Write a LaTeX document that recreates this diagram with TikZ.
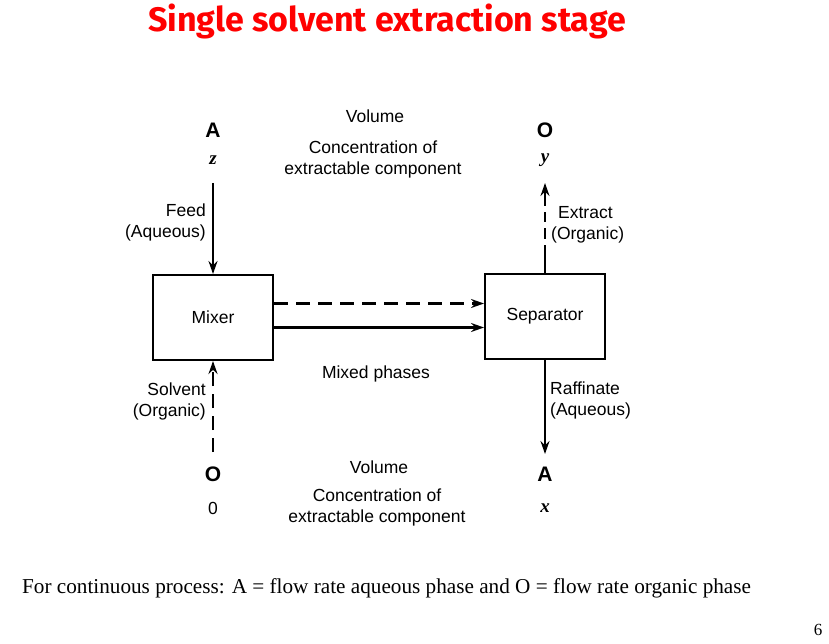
\documentclass[tikz,border=0pt]{standalone}
\usepackage{fontspec}
\setmainfont{Liberation Sans}
\newfontfamily\titlefont{Fira Sans}
\newfontfamily\seriffont{Liberation Serif}
\usetikzlibrary{arrows.meta}
\tikzset{
  lbl/.style={inner sep=0pt, font=\fontsize{17.5}{21}\selectfont},
  twoline/.style={lbl, font=\fontsize{17.5}{21}\selectfont},
  big/.style={inner sep=0pt, font=\fontsize{21}{24}\selectfont\bfseries},
  var/.style={inner sep=0pt, font=\seriffont\fontsize{19}{22}\selectfont\bfseries\itshape},
  unitbox/.style={draw, line width=2pt, minimum width=120pt, minimum height=85pt, font=\fontsize{17.5}{21}\selectfont},
  flow/.style={line width=2.2pt, -{Stealth[length=13pt,width=9pt]}},
  dflow/.style={flow, dash pattern=on 14pt off 8pt},
}
\begin{document}
\begin{tikzpicture}[x=1pt,y=-1pt]
\useasboundingbox (0,0) rectangle (829,644);
% title
\node[inner sep=0pt, text=red, font=\titlefont\fontsize{34}{40}\selectfont\bfseries] (title) at (387,21) {Single solvent extraction stage};
% boxes
\node[unitbox] (mixer) at (213,317.5) {Mixer};
\node[unitbox] (sep) at (545,316.5) {Separator};
% top labels
\node[big] (A1) at (213,130) {A};
\node[var] (z) at (213,160) {z};
\node[big] (O1) at (545,130) {O};
\node[var] (y) at (545,160) {y};
\node[lbl] (vol1) at (375,116) {Volume};
\node[twoline, align=center] (conc1) at (373,159) {Concentration of\\extractable component};
% bottom labels
\node[big] (O2) at (213,474) {O};
\node[lbl] (zero) at (213,508) {0};
\node[big] (A2) at (545,474) {A};
\node[var] (x) at (545,508) {x};
\node[lbl] (vol2) at (379,467) {Volume};
\node[twoline, align=center] (conc2) at (377,507.5) {Concentration of\\extractable component};
\node[lbl] (mixed) at (376,374) {Mixed phases};
% stream labels
\node[twoline, align=right, anchor=east] (feed) at (206,222) {Feed\\(Aqueous)};
\node[twoline, align=left, anchor=west] (extract) at (551,225) {\hspace{7pt}Extract\\(Organic)};
\node[twoline, align=right, anchor=east] (solvent) at (206,401) {Solvent\\(Organic)};
\node[twoline, align=left, anchor=west] (raff) at (550,400) {Raffinate\\(Aqueous)};
% coordinates
\coordinate (feedtop) at (213,183);
\coordinate (solvbot) at (213,452);
\coordinate (extop) at (545,183);
\coordinate (raffbot) at (545,454);
% flows
\draw[flow] (feedtop) -- (mixer.north);
\draw[dflow] (solvbot) -- (mixer.south);
\draw[flow, dash pattern=on 28pt off 6pt on 11pt off 6pt on 10pt off 6pt on 100pt] (sep.north) -- (extop);
\draw[flow] (sep.south) -- (raffbot);
\draw[dflow] ([yshift=14pt]mixer.east) -- ([yshift=13pt]sep.west);
\draw[flow] ([yshift=-10pt]mixer.east) -- ([yshift=-11pt]sep.west);
% footer
\node[inner sep=0pt, anchor=west, font=\seriffont\fontsize{21.2}{25}\selectfont] (foot) at (22,588) {For continuous process: A = flow rate aqueous phase and O = flow rate organic phase};
\node[inner sep=0pt, font=\seriffont\fontsize{17}{20}\selectfont] (page) at (818,630) {6};
\end{tikzpicture}
\end{document}
